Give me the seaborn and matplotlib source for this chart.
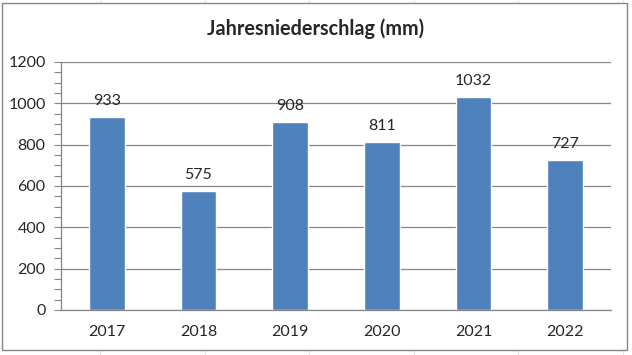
import numpy as np
import pandas as pd
import matplotlib.pyplot as plt
import seaborn as sns
from matplotlib.patches import Rectangle
from matplotlib.ticker import MultipleLocator

years = ['2017', '2018', '2019', '2020', '2021', '2022']
rain = [933, 575, 908, 811, 1032, 727]

sns.set_theme(style='white')
plt.rcParams['font.family'] = ['Lato', 'DejaVu Sans']

df = pd.DataFrame({'Jahr': years, 'Niederschlag': rain})

fig = plt.figure(figsize=(6.32, 3.55), dpi=100)
fig.patch.set_facecolor('white')

# faint spreadsheet cells behind the chart
for xl in np.arange(100, 632, 104.5) / 632:
    fig.add_artist(plt.Line2D([xl, xl], [0, 1], color='#e4e4e4', lw=0.8, zorder=-3))
fig.add_artist(Rectangle((0.003, 0.014), 0.989, 0.977, transform=fig.transFigure,
                         facecolor='white', edgecolor='#868686', lw=1.0, zorder=-2))

ax = fig.add_axes([0.0965, 0.1268, 0.8703, 0.6986])
ax.patch.set_alpha(0)
sns.barplot(data=df, x='Jahr', y='Niederschlag', color='#4F81BD', width=0.39,
            saturation=1, ax=ax)

ax.set_ylim(0, 1200)
ax.set_xlim(-0.5, 5.5)
ax.yaxis.set_major_locator(MultipleLocator(200))
ax.yaxis.set_minor_locator(MultipleLocator(50))
ax.grid(axis='y', which='major', color='#868686', lw=0.9)
ax.set_axisbelow(True)
for s in ['top', 'right']:
    ax.spines[s].set_visible(False)
for s in ['left', 'bottom']:
    ax.spines[s].set_color('#868686')
    ax.spines[s].set_linewidth(0.9)
ax.tick_params(axis='y', which='both', left=True, length=5, width=0.8, color='#868686',
               labelsize=11.5, pad=6)
ax.tick_params(axis='x', which='both', bottom=False, labelsize=11.5, pad=5)
ax.set_xlabel('')
ax.set_ylabel('')

for i, v in enumerate(rain):
    ax.annotate(str(v), (i, v), xytext=(0, 6.5), textcoords='offset points',
                ha='center', va='bottom', fontsize=11.5)

fig.text(0.5, 0.92, 'Jahresniederschlag (mm)', ha='center', va='center',
         fontsize=14.3, fontweight='bold')

fig.savefig('out.png', dpi=100)
